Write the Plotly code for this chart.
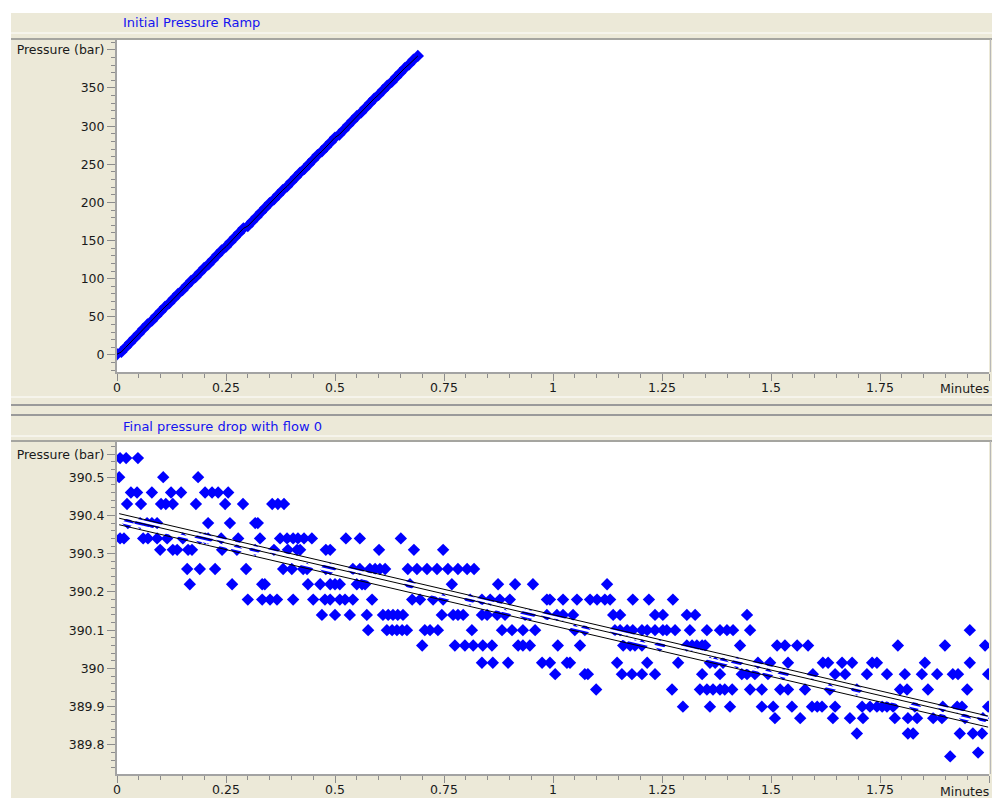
import numpy as np
import plotly.graph_objects as go

# ---------------- data ----------------
ramp_minutes = [0.00, 0.01, 0.02, 0.03, 0.04, 0.05, 0.06, 0.07, 0.08, 0.09,
                0.10, 0.11, 0.12, 0.13, 0.14, 0.15, 0.16, 0.17, 0.18, 0.19,
                0.20, 0.21, 0.22, 0.23, 0.24, 0.25, 0.26, 0.27, 0.28, 0.29,
                0.30, 0.31, 0.32, 0.33, 0.34, 0.35, 0.36, 0.37, 0.38, 0.39,
                0.40, 0.41, 0.42, 0.43, 0.44, 0.45, 0.46, 0.47, 0.48, 0.49,
                0.50, 0.51, 0.52, 0.53, 0.54, 0.55, 0.56, 0.57, 0.58, 0.59,
                0.60, 0.61, 0.62, 0.63, 0.64, 0.65, 0.66, 0.67, 0.68, 0.69]
ramp_pressure = [1, 4, 10, 16, 22, 28, 34, 40, 45, 51,
                 57, 63, 68, 74, 80, 85, 91, 97, 102, 108,
                 114, 119, 125, 131, 137, 142, 148, 154, 160, 166,
                 169, 175, 181, 187, 193, 199, 204, 210, 216, 221,
                 227, 233, 239, 244, 250, 256, 262, 267, 273, 279,
                 285, 289, 295, 301, 307, 313, 318, 324, 330, 336,
                 341, 347, 353, 358, 364, 370, 376, 381, 387, 392]

# final pressure drop: sample times (minutes) grouped by recorded pressure level (bar)
t_39055 = [0.007, 0.021, 0.048]
t_39050 = [0.005, 0.106, 0.186]
t_39046 = [0.032, 0.046, 0.080, 0.124, 0.147, 0.202, 0.218, 0.232, 0.255]
t_39043 = [0.023, 0.055, 0.101, 0.112, 0.128, 0.181, 0.248, 0.289, 0.356, 0.369, 0.383]
t_39038 = [0.025, 0.053, 0.069, 0.080, 0.092, 0.209, 0.259, 0.317, 0.323]
t_39034 = [0.007, 0.016, 0.060, 0.071, 0.092, 0.115, 0.151, 0.190, 0.202, 0.209, 0.239,
           0.278, 0.328, 0.374, 0.390, 0.404, 0.415, 0.429, 0.447, 0.525, 0.557, 0.651]
t_39031 = [0.099, 0.128, 0.138, 0.163, 0.172, 0.241, 0.275, 0.317, 0.360, 0.392, 0.413,
           0.420, 0.479, 0.489, 0.601, 0.681, 0.748]
t_39026 = [0.161, 0.190, 0.225, 0.296, 0.381, 0.401, 0.427, 0.436, 0.479, 0.489, 0.541,
           0.557, 0.580, 0.592, 0.603, 0.615, 0.667, 0.688, 0.711, 0.734, 0.759, 0.782,
           0.803, 0.819]
t_39022 = [0.167, 0.264, 0.333, 0.339, 0.438, 0.466, 0.489, 0.500, 0.511, 0.550, 0.562,
           0.569, 0.672, 0.768, 0.874, 0.913, 0.954, 1.124]
t_39018 = [0.300, 0.333, 0.351, 0.367, 0.404, 0.450, 0.477, 0.489, 0.511, 0.523, 0.541,
           0.585, 0.677, 0.695, 0.725, 0.748, 0.810, 0.837, 0.856, 0.878, 0.901, 0.986,
           0.993, 1.023, 1.055, 1.085, 1.101, 1.119, 1.131, 1.183, 1.220, 1.275]
t_39014 = [0.470, 0.500, 0.534, 0.573, 0.610, 0.622, 0.633, 0.644, 0.656, 0.745, 0.771,
           0.782, 0.794, 0.837, 0.849, 0.872, 0.890, 0.936, 0.947, 0.986, 1.009, 1.023,
           1.046, 1.138, 1.154, 1.234, 1.252, 1.307, 1.326, 1.445]
t_39010 = [0.576, 0.619, 0.631, 0.642, 0.654, 0.665, 0.706, 0.718, 0.736, 0.814, 0.883,
           0.906, 0.931, 0.959, 1.050, 1.073, 1.142, 1.154, 1.170, 1.183, 1.204, 1.216,
           1.234, 1.252, 1.261, 1.280, 1.314, 1.353, 1.383, 1.399, 1.413, 1.452, 1.956]
t_39006 = [0.700, 0.775, 0.798, 0.817, 0.839, 0.860, 0.920, 0.931, 0.947, 1.011, 1.062,
           1.161, 1.177, 1.188, 1.204, 1.245, 1.307, 1.319, 1.330, 1.342, 1.349, 1.429,
           1.514, 1.532, 1.560, 1.585, 1.791, 1.899, 1.991]
t_39002 = [0.837, 0.862, 0.897, 0.975, 0.993, 1.032, 1.039, 1.147, 1.216, 1.287, 1.360,
           1.372, 1.390, 1.422, 1.470, 1.498, 1.539, 1.619, 1.631, 1.663, 1.686, 1.732,
           1.743, 1.853, 1.956]
t_38998 = [1.005, 1.073, 1.080, 1.158, 1.181, 1.204, 1.234, 1.342, 1.383, 1.433, 1.445,
           1.463, 1.493, 1.528, 1.596, 1.647, 1.670, 1.720, 1.766, 1.807, 1.846, 1.881,
           1.917, 1.929, 1.998]
t_38994 = [1.099, 1.273, 1.337, 1.353, 1.367, 1.383, 1.394, 1.411, 1.452, 1.479, 1.521,
           1.539, 1.578, 1.635, 1.697, 1.796, 1.812, 1.860, 1.950]
t_38990 = [1.298, 1.360, 1.406, 1.479, 1.505, 1.548, 1.594, 1.606, 1.617, 1.647, 1.709,
           1.727, 1.743, 1.755, 1.766, 1.780, 1.830, 1.894, 1.927, 1.938, 1.998]
t_38987 = [1.509, 1.567, 1.642, 1.681, 1.711, 1.784, 1.814, 1.835, 1.872, 1.892, 1.945, 1.986]
t_38983 = [1.697, 1.814, 1.826, 1.933, 1.963, 1.984]
t_38978 = [1.975]
t_38977 = [1.911]

drop_levels = [390.55, 390.50, 390.46, 390.43, 390.38, 390.34, 390.31, 390.26, 390.22,
               390.18, 390.14, 390.10, 390.06, 390.015, 389.985, 389.945, 389.90, 389.87,
               389.83, 389.78, 389.77]
drop_times = [t_39055, t_39050, t_39046, t_39043, t_39038, t_39034, t_39031, t_39026, t_39022,
              t_39018, t_39014, t_39010, t_39006, t_39002, t_38998, t_38994, t_38990, t_38987,
              t_38983, t_38978, t_38977]

# linear fit and band
fit_intercept = 390.394
fit_slope = -0.2655
band_upper = 0.012
band_lower = -0.017

# ticks / labels
x_tick_vals = [0, 0.25, 0.5, 0.75, 1, 1.25, 1.5, 1.75, 2.0]
x_tick_text = ["0", "0.25", "0.5", "0.75", "1", "1.25", "1.5", "1.75", ""]
top_y_vals = [0, 50, 100, 150, 200, 250, 300, 350, 400]
top_y_text = ["0", "50", "100", "150", "200", "250", "300", "350", "Pressure (bar)"]
bot_y_vals = [389.8, 389.9, 390.0, 390.1, 390.2, 390.3, 390.4, 390.5, 390.56]
bot_y_text = ["389.8", "389.9", "390", "390.1", "390.2", "390.3", "390.4", "390.5", "Pressure (bar)"]
top_title = "Initial Pressure Ramp"
bot_title = "Final pressure drop with flow 0"
x_unit = "Minutes"

# ---------------- figure ----------------
W, H = 992, 798
BEIGE = "#ECE9D8"
BLUE = "#0000FF"
FONT = "DejaVu Sans"


def px(x):
    return x / W


def py(y):
    return 1 - y / H


drop_x = [t for ts in drop_times for t in ts]
drop_y = [lvl for lvl, ts in zip(drop_levels, drop_times) for _ in ts]

fig = go.Figure()

# top: ramp
fig.add_trace(go.Scatter(x=ramp_minutes, y=ramp_pressure, mode="markers",
                         marker=dict(symbol="diamond", size=9.5, color=BLUE, line=dict(width=0)),
                         xaxis="x", yaxis="y", hoverinfo="skip"))
fig.add_trace(go.Scatter(x=ramp_minutes, y=ramp_pressure, mode="lines",
                         line=dict(color="black", width=1),
                         xaxis="x", yaxis="y", hoverinfo="skip"))

# bottom: scatter
fig.add_trace(go.Scatter(x=drop_x, y=drop_y, mode="markers",
                         marker=dict(symbol="diamond", size=9.5, color=BLUE, line=dict(width=0)),
                         xaxis="x2", yaxis="y2", hoverinfo="skip"))

fx = np.array([min(drop_x), max(drop_x)])
fy = fit_intercept + fit_slope * fx
for off in [(band_upper + 0.0) / 2, (band_lower + 0.0) / 2]:
    fig.add_trace(go.Scatter(x=fx, y=fy + off, mode="lines",
                             line=dict(color="white", width=2.5),
                             xaxis="x2", yaxis="y2", hoverinfo="skip"))
for off in [band_upper, 0.0, band_lower]:
    fig.add_trace(go.Scatter(x=fx, y=fy + off, mode="lines",
                             line=dict(color="black", width=1),
                             xaxis="x2", yaxis="y2", hoverinfo="skip"))

xdom = [117 / W, 989 / W]
top_dom = [py(372), py(40)]
bot_dom = [py(774), py(442)]

axis_common = dict(showgrid=False, zeroline=False, showline=True, linecolor="#A3A3A3",
                   linewidth=2, ticks="outside", tickwidth=1, tickcolor="#8C8C8C",
                   tickfont=dict(family=FONT, size=12.5, color="#1A1A1A"), automargin=False,
                   fixedrange=True)
x_common = dict(ticklen=7, ticklabelstandoff=-4, **axis_common)
y_common = dict(ticklen=8, **axis_common)

fig.update_layout(
    width=W, height=H,
    margin=dict(l=0, r=0, t=0, b=0, pad=0),
    paper_bgcolor=BEIGE, plot_bgcolor="white",
    showlegend=False,
    xaxis=dict(domain=xdom, anchor="y", range=[0, 2.0], tickmode="array",
               tickvals=x_tick_vals, ticktext=x_tick_text,
               minor=dict(tickmode="linear", tick0=0, dtick=0.05, ticks="outside",
                          ticklen=4, tickcolor="#8C8C8C"), **x_common),
    yaxis=dict(domain=top_dom, anchor="x", range=[-22.3, 412.9], tickmode="array",
               tickvals=top_y_vals, ticktext=top_y_text,
               minor=dict(tickmode="linear", tick0=0, dtick=10, ticks="outside",
                          ticklen=4, tickcolor="#8C8C8C"), **y_common),
    xaxis2=dict(domain=xdom, anchor="y2", range=[0, 2.0], tickmode="array",
                tickvals=x_tick_vals, ticktext=x_tick_text,
                minor=dict(tickmode="linear", tick0=0, dtick=0.05, ticks="outside",
                           ticklen=4, tickcolor="#8C8C8C"), **x_common),
    yaxis2=dict(domain=bot_dom, anchor="x2", range=[389.724, 390.592], tickmode="array",
                tickvals=bot_y_vals, ticktext=bot_y_text,
                minor=dict(tickmode="linear", tick0=389.8, dtick=0.02, ticks="outside",
                           ticklen=4, tickcolor="#8C8C8C"), **y_common),
)

shapes = []
# white strips at left and top
shapes.append(dict(type="rect", xref="paper", yref="paper", x0=0, x1=px(11), y0=0, y1=1,
                   fillcolor="white", line=dict(width=0), layer="below"))
shapes.append(dict(type="rect", xref="paper", yref="paper", x0=0, x1=1, y0=py(13), y1=1,
                   fillcolor="white", line=dict(width=0), layer="below"))


def hline(y, color, width):
    shapes.append(dict(type="line", xref="paper", yref="paper", x0=px(11), x1=1,
                       y0=py(y), y1=py(y), line=dict(color=color, width=width), layer="above"))


hline(33, "#FFFFFF", 1)
hline(39, "#8E8E8E", 1.5)
hline(397, "#FFFFFF", 1)
hline(405, "#9A9A9A", 2)
hline(415, "#9A9A9A", 2)
hline(436, "#FFFFFF", 1)
hline(441, "#8E8E8E", 1.5)
# right borders of plot areas
for y0, y1 in [(39, 372), (441, 774)]:
    shapes.append(dict(type="line", xref="paper", yref="paper", x0=px(990.5), x1=px(990.5),
                       y0=py(y1), y1=py(y0), line=dict(color="#B8B8B8", width=1), layer="above"))
fig.update_layout(shapes=shapes)

ann_font_title = dict(family=FONT, size=13, color="#1414F0")
ann_font_tick = dict(family=FONT, size=12.5, color="#1A1A1A")
fig.update_layout(annotations=[
    dict(text=top_title, x=px(121), y=py(22.5), xref="paper", yref="paper",
         xanchor="left", yanchor="middle", showarrow=False, font=ann_font_title),
    dict(text=bot_title, x=px(121), y=py(426), xref="paper", yref="paper",
         xanchor="left", yanchor="middle", showarrow=False, font=ann_font_title),
    dict(text=x_unit, x=px(991), y=py(388), xref="paper", yref="paper",
         xanchor="right", yanchor="middle", showarrow=False, font=ann_font_tick),
    dict(text=x_unit, x=px(991), y=py(791), xref="paper", yref="paper",
         xanchor="right", yanchor="middle", showarrow=False, font=ann_font_tick),
])

fig.write_html("out.html",
               config={"displayModeBar": False, "staticPlot": True},
               post_script="document.body.style.margin='0px';"
                           "document.body.style.overflow='hidden';")
